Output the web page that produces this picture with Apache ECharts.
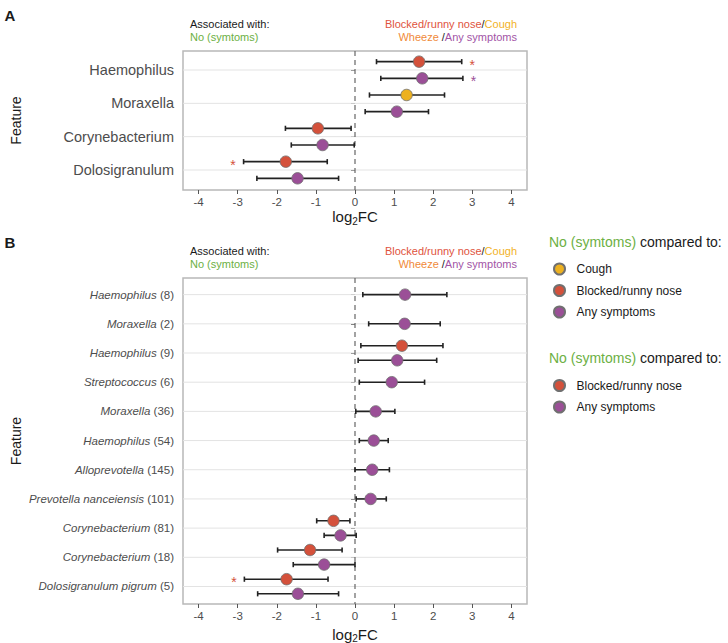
<!DOCTYPE html>
<html><head><meta charset="utf-8">
<script src="https://cdn.jsdelivr.net/npm/echarts@6/dist/echarts.min.js"></script>
<style>html,body{margin:0;padding:0;background:#fff}#c{width:728px;height:643px}</style>
</head><body><div id="c"></div>
<script>
// ---------- Panel A data ----------
const aFeatures = ['Haemophilus', 'Moraxella', 'Corynebacterium', 'Dolosigranulum'];
const aFeature = [0, 0, 1, 1, 2, 2, 3, 3];
const aGroup = ['Blocked/runny nose', 'Any symptoms', 'Cough', 'Any symptoms', 'Blocked/runny nose', 'Any symptoms', 'Blocked/runny nose', 'Any symptoms'];
const aLog2FC = [1.64, 1.72, 1.32, 1.07, -0.95, -0.83, -1.77, -1.47];
const aLow = [0.55, 0.66, 0.37, 0.26, -1.78, -1.63, -2.85, -2.51];
const aHigh = [2.73, 2.76, 2.29, 1.88, -0.10, -0.02, -0.71, -0.42];
const aSignif = [1, 1, 0, 0, 0, 0, 1, 0];

// ---------- Panel B data ----------
const bGenus = ['Haemophilus', 'Moraxella', 'Haemophilus', 'Streptococcus', 'Moraxella', 'Haemophilus', 'Alloprevotella', 'Prevotella nanceiensis', 'Corynebacterium', 'Corynebacterium', 'Dolosigranulum pigrum'];
const bCount = [8, 2, 9, 6, 36, 54, 145, 101, 81, 18, 5];
const bFeature = [0, 1, 2, 2, 3, 4, 5, 6, 7, 8, 8, 9, 9, 10, 10];
const bGroup = ['Any symptoms', 'Any symptoms', 'Blocked/runny nose', 'Any symptoms', 'Any symptoms', 'Any symptoms', 'Any symptoms', 'Any symptoms', 'Any symptoms', 'Blocked/runny nose', 'Any symptoms', 'Blocked/runny nose', 'Any symptoms', 'Blocked/runny nose', 'Any symptoms'];
const bLog2FC = [1.28, 1.27, 1.20, 1.08, 0.94, 0.53, 0.48, 0.44, 0.40, -0.55, -0.37, -1.15, -0.79, -1.75, -1.46];
const bLow = [0.20, 0.35, 0.15, 0.08, 0.11, 0.02, 0.11, 0.00, 0.03, -0.98, -0.79, -1.98, -1.58, -2.83, -2.49];
const bHigh = [2.35, 2.18, 2.25, 2.09, 1.78, 1.02, 0.85, 0.88, 0.80, -0.13, 0.03, -0.33, 0.00, -0.69, -0.42];
const bSignif = [0, 0, 0, 0, 0, 0, 0, 0, 0, 0, 0, 0, 0, 1, 0];

// ---------- axis ticks & legend groups ----------
const xTicks = [-4, -3, -2, -1, 0, 1, 2, 3, 4];
const legend1Groups = ['Cough', 'Blocked/runny nose', 'Any symptoms'];
const legend2Groups = ['Blocked/runny nose', 'Any symptoms'];

// ---------- styles ----------
const FONT = '"Liberation Sans", Arial, Helvetica, sans-serif';
const GROUP_COLOR = { 'Cough': '#edb120', 'Blocked/runny nose': '#d4513b', 'Any symptoms': '#9b4f97' };
const TXT = { red: '#e0533d', yellow: '#f2b227', orange: '#f08a3a', purple: '#a254a6', green: '#6cb043', dark: '#1a1a1a', axis: '#4d4d4d' };
const X_MIN = -4.4, X_MAX = 4.4;

function positions(featureIdx) {
  const counts = {}, seen = {};
  featureIdx.forEach(f => { counts[f] = (counts[f] || 0) + 1; });
  return featureIdx.map(f => {
    const s = seen[f] || 0; seen[f] = s + 1;
    const n = counts[f];
    return f + 1 + (n > 1 ? (s - (n - 1) / 2) * 0.5 : 0);
  });
}

function panelSeries(idx, nFeat, feat, group, est, lo, hi, sig) {
  const ys = positions(feat);
  const series = [];
  series.push({
    type: 'custom', xAxisIndex: idx, yAxisIndex: idx, z: 1, silent: true,
    data: Array.from({ length: nFeat }, (_, i) => [0, i + 1]),
    renderItem: (params, api) => {
      const cs = params.coordSys;
      const p = api.coord([0, api.value(1)]);
      const children = [{ type: 'line', shape: { x1: cs.x, y1: p[1], x2: cs.x + cs.width, y2: p[1] }, style: { stroke: '#e3e3e3', lineWidth: 1 } }];
      if (params.dataIndex === 0) {
        children.push({ type: 'line', z2: 5, shape: { x1: p[0], y1: cs.y, x2: p[0], y2: cs.y + cs.height }, style: { stroke: '#666', lineWidth: 1.2, lineDash: [5, 4] } });
      }
      return { type: 'group', children };
    }
  });
  series.push({
    type: 'custom', xAxisIndex: idx, yAxisIndex: idx, z: 2, silent: true,
    data: est.map((e, i) => [lo[i], hi[i], ys[i]]),
    renderItem: (params, api) => {
      const a = api.coord([api.value(0), api.value(2)]);
      const b = api.coord([api.value(1), api.value(2)]);
      const h = 2.6;
      const st = { stroke: '#222', lineWidth: 1.6 };
      return { type: 'group', children: [
        { type: 'line', shape: { x1: a[0], y1: a[1], x2: b[0], y2: b[1] }, style: st },
        { type: 'line', shape: { x1: a[0], y1: a[1] - h, x2: a[0], y2: a[1] + h }, style: st },
        { type: 'line', shape: { x1: b[0], y1: b[1] - h, x2: b[0], y2: b[1] + h }, style: st }
      ] };
    }
  });
  ['Cough', 'Blocked/runny nose', 'Any symptoms'].forEach(g => {
    const d = [];
    est.forEach((e, i) => { if (group[i] === g) d.push([e, ys[i]]); });
    if (!d.length) return;
    series.push({
      type: 'scatter', name: g, xAxisIndex: idx, yAxisIndex: idx, z: 3,
      symbol: 'circle', symbolSize: 11.5, data: d,
      itemStyle: { color: GROUP_COLOR[g], borderColor: '#707070', borderWidth: 0.8, opacity: 1 }
    });
  });
  const sd = [];
  est.forEach((e, i) => { if (sig[i]) sd.push([lo[i], hi[i], ys[i], e, group[i]]); });
  series.push({
    type: 'custom', xAxisIndex: idx, yAxisIndex: idx, z: 4, silent: true,
    data: sd,
    renderItem: (params, api) => {
      const item = sd[params.dataIndex];
      const right = item[3] > 0;
      const p = api.coord([right ? item[1] : item[0], item[2]]);
      return { type: 'text', x: p[0] + (right ? 10.5 : -10.5), y: p[1] + 3,
        style: { text: '*', fill: GROUP_COLOR[item[4]], font: '14px ' + FONT, align: 'center', verticalAlign: 'middle' } };
    }
  });
  return series;
}

const gridA = { left: 183, top: 51, width: 344, height: 139 };
const gridB = { left: 183, top: 278, width: 344, height: 326 };

function xAxisCfg(idx) {
  return {
    type: 'value', gridIndex: idx, min: X_MIN, max: X_MAX,
    axisLine: { show: false }, splitLine: { show: false },
    axisTick: { show: true, length: 4, customValues: xTicks, lineStyle: { color: '#555', width: 1 } },
    axisLabel: { customValues: xTicks, color: TXT.axis, fontSize: 11.5, fontFamily: FONT, margin: 6 },
    name: '{a|log}{s|2}{a|FC}', nameLocation: 'middle', nameGap: 17,
    nameTextStyle: { rich: {
      a: { fontSize: 15, fontFamily: FONT, color: TXT.dark },
      s: { fontSize: 10, fontFamily: FONT, color: TXT.dark, padding: [9, 0, 0, 0] }
    } }
  };
}

function yAxisCfg(idx, n, formatter, fontSize, rich) {
  const vals = Array.from({ length: n }, (_, i) => i + 1);
  return {
    type: 'value', gridIndex: idx, inverse: true, min: 0.43, max: n + 0.6,
    axisLine: { show: false }, splitLine: { show: false },
    axisTick: { show: true, length: 4, customValues: vals, lineStyle: { color: '#555', width: 1 } },
    axisLabel: { customValues: vals, formatter, color: TXT.axis, fontSize, fontFamily: FONT, margin: 9, rich },
    name: 'Feature', nameLocation: 'middle', nameRotate: 90, nameGap: 160,
    nameTextStyle: { fontSize: 14, fontFamily: FONT, color: TXT.dark }
  };
}

function headerGraphics(boxTop) {
  const f = (c) => ({ fill: c, fontSize: 11, fontFamily: FONT });
  const rich = { r: f(TXT.red), y: f(TXT.yellow), o: f(TXT.orange), p: f(TXT.purple), k: f(TXT.dark) };
  return [
    { type: 'text', x: 190, y: boxTop - 27, style: { text: 'Associated with:', fill: TXT.dark, font: '11px ' + FONT, verticalAlign: 'middle' } },
    { type: 'text', x: 190, y: boxTop - 14, style: { text: 'No (symtoms)', fill: TXT.green, font: '11px ' + FONT, verticalAlign: 'middle' } },
    { type: 'text', x: 517, y: boxTop - 27, style: { text: '{r|Blocked/runny nose}{k|/}{y|Cough}', rich, align: 'right', verticalAlign: 'middle' } },
    { type: 'text', x: 517, y: boxTop - 14, style: { text: '{o|Wheeze }{k|/}{p|Any symptoms}', rich, align: 'right', verticalAlign: 'middle' } }
  ];
}

function legendTitle(y) {
  return { type: 'text', x: 549, y, style: {
    text: '{g|No (symtoms)}{k| compared to:}', verticalAlign: 'middle',
    rich: { g: { fill: TXT.green, fontSize: 14, fontFamily: FONT }, k: { fill: TXT.dark, fontSize: 14, fontFamily: FONT } } } };
}

const bRich = {
  i: { fontStyle: 'italic', color: TXT.axis, fontSize: 11.5, fontFamily: FONT },
  n: { color: TXT.axis, fontSize: 11.5, fontFamily: FONT }
};

const option = {
  backgroundColor: '#ffffff',
  animation: false,
  textStyle: { fontFamily: FONT },
  grid: [
    Object.assign({ show: true, borderColor: '#b8b8b8', borderWidth: 1.5, backgroundColor: 'transparent', outerBoundsMode: 'none' }, gridA),
    Object.assign({ show: true, borderColor: '#b8b8b8', borderWidth: 1.5, backgroundColor: 'transparent', outerBoundsMode: 'none' }, gridB)
  ],
  xAxis: [xAxisCfg(0), xAxisCfg(1)],
  yAxis: [
    yAxisCfg(0, aFeatures.length, v => aFeatures[Math.round(v) - 1] || '', 14.5),
    yAxisCfg(1, bGenus.length, v => { const i = Math.round(v) - 1; return bGenus[i] ? '{i|' + bGenus[i] + '} {n|(' + bCount[i] + ')}' : ''; }, 11.5, bRich)
  ],
  legend: [
    { data: legend1Groups, orient: 'vertical', left: 548, top: 257.5, itemWidth: 24, itemHeight: 11, itemGap: 8.5, icon: 'circle',
      textStyle: { fontSize: 12, color: TXT.dark, fontFamily: FONT }, selectedMode: false },
    { data: legend2Groups, orient: 'vertical', left: 548, top: 374, itemWidth: 24, itemHeight: 11, itemGap: 8.5, icon: 'circle',
      textStyle: { fontSize: 12, color: TXT.dark, fontFamily: FONT }, selectedMode: false }
  ],
  graphic: [
    { type: 'text', x: 10, y: 15, style: { text: 'A', fill: TXT.dark, font: 'bold 15px ' + FONT, align: 'center', verticalAlign: 'middle' } },
    { type: 'text', x: 10, y: 242, style: { text: 'B', fill: TXT.dark, font: 'bold 15px ' + FONT, align: 'center', verticalAlign: 'middle' } },
    ...headerGraphics(gridA.top),
    ...headerGraphics(gridB.top),
    legendTitle(242),
    legendTitle(358)
  ],
  series: [
    ...panelSeries(0, aFeatures.length, aFeature, aGroup, aLog2FC, aLow, aHigh, aSignif),
    ...panelSeries(1, bGenus.length, bFeature, bGroup, bLog2FC, bLow, bHigh, bSignif)
  ]
};

const chart = echarts.init(document.getElementById('c'), null, { renderer: 'svg' });
chart.setOption(option);
</script>
</body></html>
